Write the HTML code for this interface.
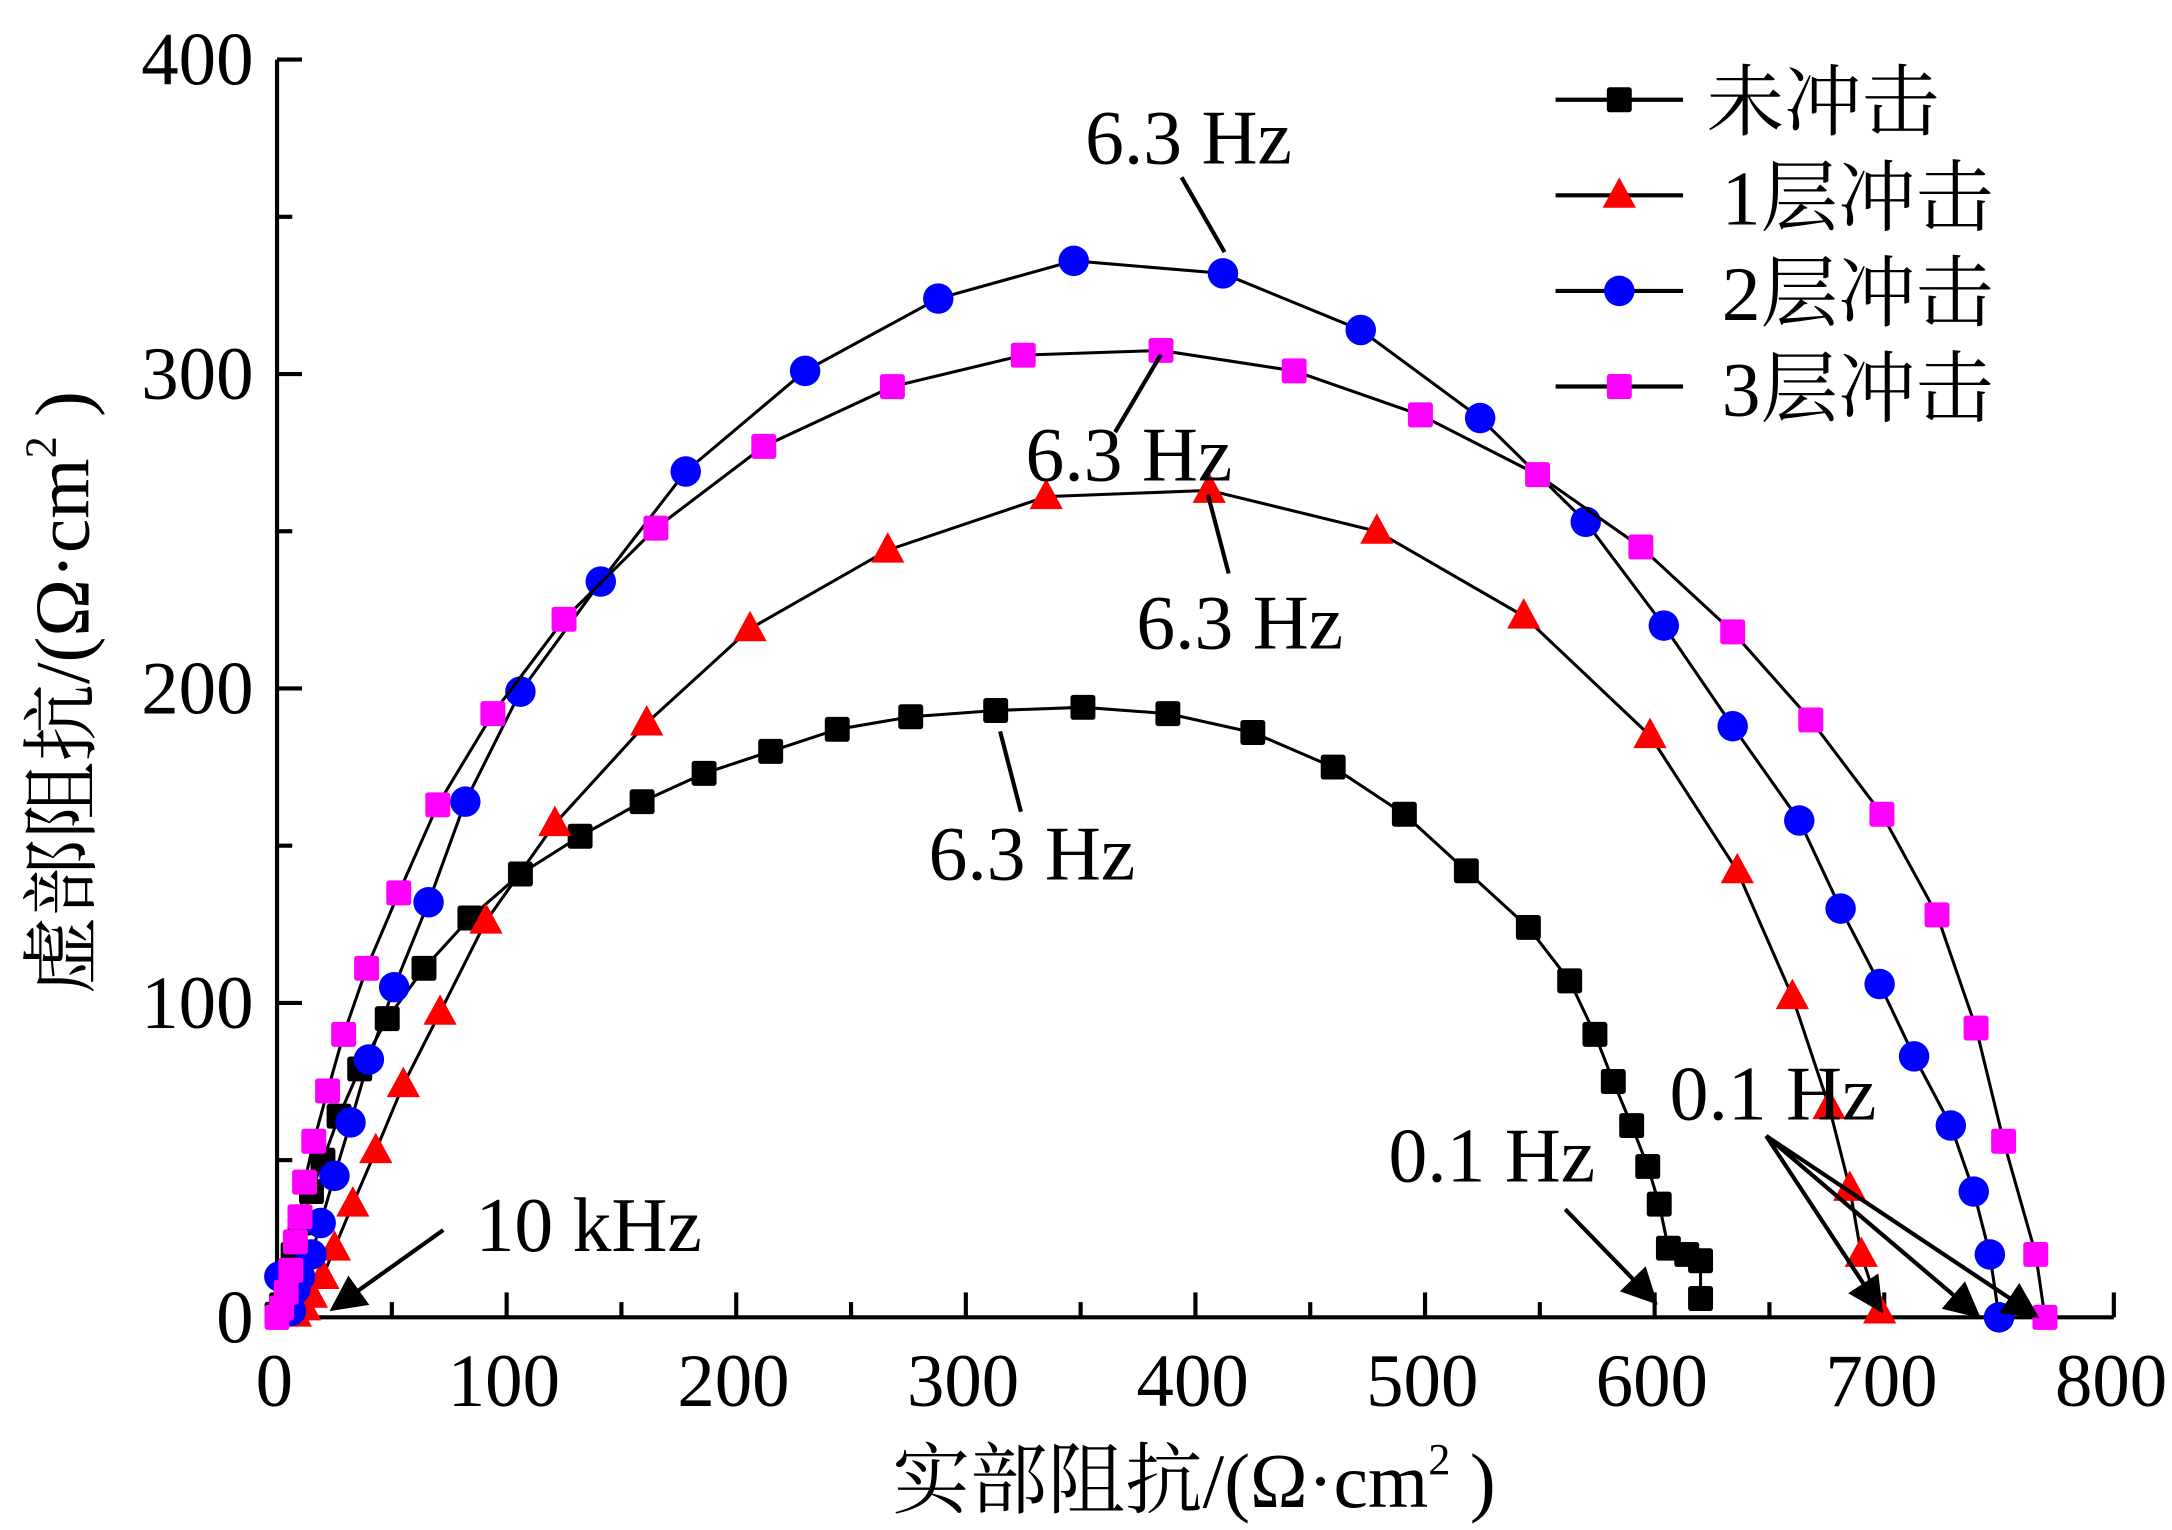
<!DOCTYPE html>
<html><head><meta charset="utf-8"><style>
html,body{margin:0;padding:0;background:#fff}
svg{display:block}
text{font-family:"Liberation Serif","Noto Serif CJK SC",serif;fill:#000}
</style></head><body>
<svg id="chart" width="2172" height="1530" viewBox="0 0 1568 1104.5" xmlns="http://www.w3.org/2000/svg">
<g id="axes"></g>
<g id="series"></g>
<g id="annot"></g>
<g id="legend"></g>
<text x="862" y="1088" font-size="56" text-anchor="middle">实部阻抗/(Ω·cm<tspan font-size="32" dy="-24">2</tspan><tspan dy="24"> )</tspan></text>
<text transform="translate(64,500) rotate(-90)" font-size="56" text-anchor="middle">虚部阻抗/(Ω·cm<tspan font-size="32" dy="-24">2</tspan><tspan dy="24"> )</tspan></text>
</svg>
<script>
const xTicks=[0,100,200,300,400,500,600,700,800];
const yTicks=[0,100,200,300,400];
const seriesNames=["未冲击","1层冲击","2层冲击","3层冲击"];
const blackX=[620,620,614,606,602,597,590,582,574,563,545,518,491,460,425,388,351,313,276,244,215,186,159,132,106,84,64,48,36,27,20,15,10,7,4,2,0];
const blackY=[6,18,20,22,36,48,61,75,90,107,124,142,160,175,186,192,194,193,191,187,180,173,164,153,141,127,111,95,79,64,50,40,30,20,10,4,1];
const redX=[698,690,685,676,660,636,598,543,479,406,335,266,206,161,121,91,71,55,43,33,25,20,15,12,8,2];
const redY=[2,20,41,67,102,142,185,223,250,263,261,244,219,189,157,126,97,74,53,36,22,13,7,3,1,2];
const blueX=[750,746,739,729,713,698,681,663,634,604,570,524,472,412,347,288,230,178,141,106,82,66,51,40,32,25,19,15,10,8,5,6,1];
const blueY=[0,20,40,61,83,106,130,158,188,220,253,286,314,332,336,324,301,269,234,199,164,132,105,82,62,45,30,20,13,9,5,2,13];
const magX=[770,766,752,740,723,699,668,634,594,549,498,443,385,325,268,212,165,125,94,70,53,39,29,22,16,12,10,8,6,4,2,0];
const magY=[0,20,56,92,128,160,190,218,245,268,287,301,307.5,306,296,277,251,222,192,163,135,111,90,72,56,43,32,24,15,8,3,0];

const X0=200,X1=1526,Y0=951,Y1=43;
const sx=v=>X0+(X1-X0)*v/800;
const sy=v=>Y0-(Y0-Y1)*v/400;
const NS="http://www.w3.org/2000/svg";
function mk(tag,attrs,parent){const e=document.createElementNS(NS,tag);for(const k in attrs)e.setAttribute(k,attrs[k]);parent.appendChild(e);return e;}
const axes=document.getElementById('axes');
let e;
e=mk('line',{x1:X0,y1:Y0,x2:X1,y2:Y0,stroke:'#000','stroke-width':3},axes);


e=mk('line',{x1:X0,y1:Y0,x2:X0,y2:Y1,stroke:'#000','stroke-width':3},axes);


for(let v=0;v<=800;v+=50){const x=sx(v);const L=v%100===0?18:11;
 e=mk('line',{x1:x,y1:Y0,x2:x,y2:Y0-L,stroke:'#000','stroke-width':3},axes);
 
 }
for(let v=0;v<=400;v+=50){const y=sy(v);const L=v%100===0?18:11;
 e=mk('line',{x1:X0,y1:y,x2:X0+L,y2:y,stroke:'#000','stroke-width':3},axes);
 
 }
xTicks.forEach(v=>{e=mk('text',{x:sx(v)-2,y:1015,'font-size':54,'text-anchor':'middle'},axes);e.textContent=v;
 
 });
yTicks.forEach(v=>{e=mk('text',{x:183,y:sy(v)+18,'font-size':54,'text-anchor':'end'},axes);e.textContent=v;
 
 });

const ser=document.getElementById('series');
function marker(shape,color,x,y,parent){
 let m;
 if(shape==='sq')m=mk('rect',{x:x-9,y:y-9,width:18,height:18,rx:2,fill:color},parent);
 else if(shape==='ci')m=mk('ellipse',{cx:x,cy:y,rx:11,ry:11,fill:color},parent);
 else m=mk('polygon',{points:`${x},${y-13} ${x+12},${y+9} ${x-12},${y+9}`,fill:color,'stroke-linejoin':'round'},parent);
 return m;}
const defs=[[blackX,blackY,'sq','#000','series-untreated'],[redX,redY,'tr','#f00','series-1-layer'],[blueX,blueY,'ci','#00f','series-2-layer'],[magX,magY,'sq','#f0f','series-3-layer']];
defs.forEach(([xs,ys,sh,col,name])=>{
 const g=mk('g',{},ser);
 
 
 e=mk('polyline',{points:xs.map((v,i)=>sx(v)+','+sy(ys[i])).join(' '),fill:'none',stroke:'#000','stroke-width':2.2},g);
 
 
 xs.forEach((v,i)=>{const m=marker(sh,col,sx(v),sy(ys[i]),g);
  
  });
});

const an=document.getElementById('annot');
mk('defs',{},an).innerHTML='<marker id="ah" viewBox="0 0 10 10" refX="9" refY="5" markerWidth="11" markerHeight="8" orient="auto" markerUnits="userSpaceOnUse"><path d="M0,0 L10,5 L0,10 z" fill="#000"/></marker>';
an.querySelector('marker').setAttribute('markerWidth','34');
an.querySelector('marker').setAttribute('markerHeight','26');
function label(t,x,y,name){e=mk('text',{x:x,y:y,'font-size':56,'text-anchor':'middle'},an);e.textContent=t;
 
 }
function ln(x1,y1,x2,y2,arrow){const a={x1,y1,x2,y2,stroke:'#000','stroke-width':3};if(arrow)a['marker-end']='url(#ah)';
 e=mk('line',a,an);
 
 }
label('6.3 Hz',858,118,'label-6.3hz-2layer');ln(853,128,884,182);
label('6.3 Hz',815,347,'label-6.3hz-3layer');ln(838,256,805,312);
label('6.3 Hz',895,468,'label-6.3hz-1layer');ln(872,357,887,414);
label('6.3 Hz',745,635,'label-6.3hz-untreated');ln(722,528,737,586);
label('10 kHz',425,903,'label-10khz');ln(320,888,240,945,true);
label('0.1 Hz',1077,853,'label-0.1hz-untreated');ln(1130,873,1195,940,true);
label('0.1 Hz',1280,808,'label-0.1hz-others');ln(1275,820,1358,946,true);ln(1275,820,1428,950,true);ln(1275,820,1470,950,true);

const lg=document.getElementById('legend');
const shapes=['sq','tr','ci','sq'],cols=['#000','#f00','#00f','#f0f'];
seriesNames.forEach((n,i)=>{const y=72+i*69;
 const g=mk('g',{},lg);
 
 
 mk('line',{x1:1123,y1:y,x2:1215,y2:y,stroke:'#000','stroke-width':3},g);
 marker(shapes[i],cols[i],1169,y,g);
 const t=mk('text',{x:i===0?1232:1243,y:y+21,'font-size':56},g);t.textContent=n;});
</script>
</body></html>
